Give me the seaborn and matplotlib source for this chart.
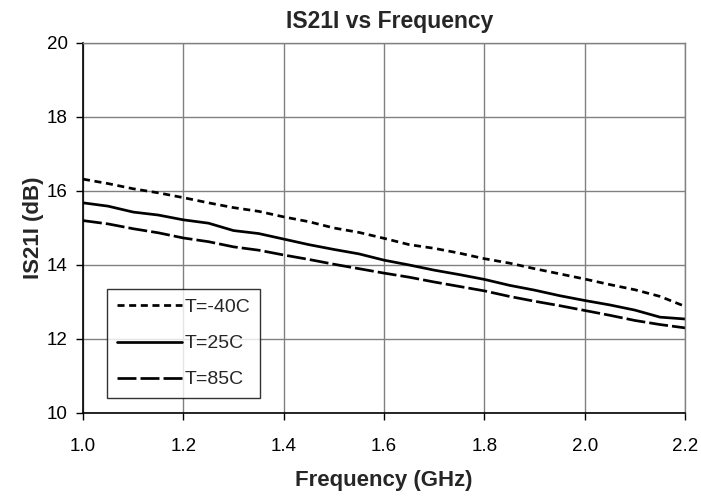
import matplotlib
matplotlib.use("Agg")
import matplotlib.pyplot as plt
import seaborn as sns
import pandas as pd

# frequency points (GHz)
freq = [1.00, 1.05, 1.10, 1.15, 1.20, 1.25, 1.30, 1.35, 1.40, 1.45, 1.50, 1.55,
        1.60, 1.65, 1.70, 1.75, 1.80, 1.85, 1.90, 1.95, 2.00, 2.05, 2.10, 2.15, 2.20]

s21_m40 = [16.32, 16.20, 16.06, 15.95, 15.82, 15.68, 15.55, 15.45, 15.30, 15.17, 15.00, 14.88,
           14.72, 14.55, 14.45, 14.32, 14.17, 14.05, 13.90, 13.76, 13.62, 13.47, 13.33, 13.15, 12.88]
s21_25 = [15.68, 15.59, 15.43, 15.35, 15.22, 15.13, 14.93, 14.85, 14.70, 14.55, 14.42, 14.30,
          14.13, 14.00, 13.86, 13.74, 13.61, 13.45, 13.32, 13.17, 13.04, 12.92, 12.78, 12.59, 12.54]
s21_85 = [15.20, 15.11, 14.98, 14.87, 14.73, 14.63, 14.49, 14.40, 14.27, 14.15, 14.02, 13.90,
          13.78, 13.67, 13.54, 13.42, 13.30, 13.15, 13.02, 12.90, 12.77, 12.64, 12.50, 12.39, 12.30]

labels = ["T=-40C", "T=25C", "T=85C"]
styles = [(0, (2.6, 1.7)), "-", (0, (7, 1.5))]

sns.set_style("white")
plt.rcParams['font.family'] = ['Liberation Sans', 'DejaVu Sans']

fig = plt.figure(figsize=(7.01, 4.98), dpi=100)
ax = fig.add_axes([0.1184, 0.1707, 0.859, 0.743])

for vals, lab, ls in zip([s21_m40, s21_25, s21_85], labels, styles):
    df = pd.DataFrame({"freq": freq, "s21": vals})
    sns.lineplot(data=df, x="freq", y="s21", ax=ax, color="black",
                 linewidth=1.95, linestyle=ls, label=lab)

ax.set_xlim(1.0, 2.2)
ax.set_ylim(10, 20)
ax.set_xticks([1.0, 1.2, 1.4, 1.6, 1.8, 2.0, 2.2])
ax.set_xticklabels(["1.0", "1.2", "1.4", "1.6", "1.8", "2.0", "2.2"])
ax.set_yticks([10, 12, 14, 16, 18, 20])
ax.grid(True, color="#808080", linewidth=1.0)
ax.tick_params(axis="both", labelsize=13.5, length=5, width=1, direction="out",
               colors="black", left=True, bottom=True)
ax.tick_params(axis="x", pad=13)
ax.tick_params(axis="y", pad=6)
for side in ["top", "right"]:
    ax.spines[side].set_color("#808080")
    ax.spines[side].set_linewidth(1.0)
for side in ["left", "bottom"]:
    ax.spines[side].set_color("black")
    ax.spines[side].set_linewidth(1.2)

ax.set_title("IS21I vs Frequency", fontsize=16.5, fontweight="bold", pad=11, x=0.51)
ax.set_xlabel("Frequency (GHz)", fontsize=16, fontweight="bold", labelpad=11)
ax.set_ylabel("IS21I (dB)", fontsize=16, fontweight="bold", labelpad=2)

leg = ax.legend(loc="lower left", bbox_to_anchor=(0.04, 0.04), fontsize=14,
                frameon=True, fancybox=False, handlelength=3.35, handletextpad=0.15,
                labelspacing=0.95, borderpad=0.5, borderaxespad=0, edgecolor="black")
leg.get_frame().set_linewidth(1.0)

fig.savefig("out.png", dpi=100)
